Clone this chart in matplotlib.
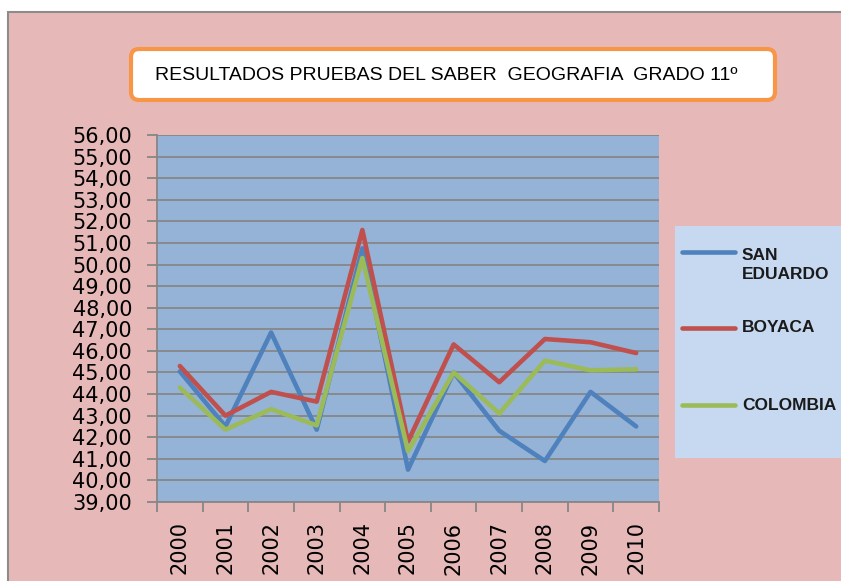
import matplotlib
matplotlib.use('Agg')
import matplotlib.pyplot as plt
from matplotlib.patches import Rectangle, FancyBboxPatch
from matplotlib.lines import Line2D
from matplotlib.ticker import FuncFormatter

# Datos
years = ['2000', '2001', '2002', '2003', '2004', '2005', '2006', '2007', '2008', '2009', '2010']
san_eduardo = [45.05, 42.5, 46.85, 42.35, 50.75, 40.5, 45.0, 42.3, 40.9, 44.1, 42.5]
boyaca = [45.3, 43.0, 44.1, 43.65, 51.6, 41.8, 46.3, 44.55, 46.55, 46.4, 45.9]
colombia = [44.3, 42.35, 43.3, 42.55, 50.3, 41.35, 45.0, 43.1, 45.55, 45.1, 45.15]
series_names = ['SAN\nEDUARDO', 'BOYACA', 'COLOMBIA']
series_colors = ['#4F81BD', '#C0504D', '#9BBB59']

W, H = 841, 581
fig = plt.figure(figsize=(W / 100, H / 100), dpi=100)
fig.patch.set_facecolor('white')
tr = fig.dpi_scale_trans


def inch(x, y):
    # pixel (desde arriba) -> pulgadas (desde abajo)
    return x / 100, (H - y) / 100


# Fondo rosado del area del grafico
fig.add_artist(Rectangle(inch(8, H + 50), 10, (H + 50 - 12) / 100, transform=tr,
                         facecolor='#E6B9B8', edgecolor='#8C8C8C', lw=1.5, zorder=0))

# Titulo dentro de un recuadro naranja
fig.add_artist(FancyBboxPatch(inch(131, 100), 6.44, 0.51, transform=tr,
                              boxstyle='round,pad=0,rounding_size=0.08',
                              facecolor='white', edgecolor='#F79646', lw=3, zorder=1))
fig.text(*inch(446, 76), 'RESULTADOS PRUEBAS DEL SABER  GEOGRAFIA  GRADO 11º', transform=tr,
         ha='center', va='center', fontsize=14, family='Liberation Sans', zorder=2)

# Ejes
ax = fig.add_axes([157 / W, 1 - 502 / H, (659 - 157) / W, (502 - 135) / H])
ax.set_facecolor('#95B3D7')
x = list(range(len(years)))
for vals, col in zip([san_eduardo, boyaca, colombia], series_colors):
    ax.plot(x, vals, color=col, lw=3.3, solid_capstyle='round', zorder=3)

ax.set_xlim(-0.5, len(years) - 0.5)
ax.set_ylim(39, 56)
ax.set_yticks(range(39, 57))
ax.yaxis.set_major_formatter(FuncFormatter(lambda v, p: f'{v:.2f}'.replace('.', ',')))
ax.grid(axis='y', color='#878787', lw=1.3, zorder=1)
ax.set_axisbelow(True)

ax.set_xticks(x)
ax.set_xticklabels(years, rotation=90)
ax.set_xticks([i - 0.5 for i in range(len(years) + 1)], minor=True)
ax.tick_params(axis='x', which='major', length=0, pad=14, labelsize=15)
ax.tick_params(axis='x', which='minor', length=7, width=1.3, color='#878787')
ax.tick_params(axis='y', length=7, width=1.3, color='#878787', pad=11, labelsize=15)

for s in ['top', 'right']:
    ax.spines[s].set_visible(False)
for s in ['left', 'bottom']:
    ax.spines[s].set_color('#878787')
    ax.spines[s].set_linewidth(1.3)

# Leyenda
fig.add_artist(Rectangle(inch(675, 458), 2.0, (458 - 226) / 100, transform=tr,
                         facecolor='#C6D9F1', edgecolor='none', zorder=1))
line_y = [252, 328, 405]
text_y = [265, 328, 405]
for name, col, ly, ty in zip(series_names, series_colors, line_y, text_y):
    x0, y0 = inch(682, ly)
    x1, _ = inch(735, ly)
    fig.add_artist(Line2D([x0, x1], [y0, y0], transform=tr, color=col, lw=3.3,
                          solid_capstyle='round', zorder=2))
    fig.text(*inch(742, ty), name, transform=tr, ha='left', va='center',
             fontsize=12.5, fontweight='bold', linespacing=1.3,
             family='Liberation Sans', color='#1A1A1A', zorder=2)

fig.savefig('out.png', dpi=100)
